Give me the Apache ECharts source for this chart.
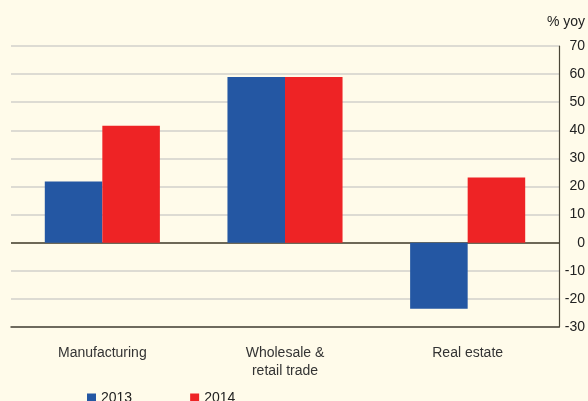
<!DOCTYPE html>
<html>
<head>
<meta charset="utf-8">
<script src="https://cdn.jsdelivr.net/npm/echarts@6/dist/echarts.min.js"></script>
<style>
  html, body { margin: 0; padding: 0; background: #fffbea; }
  #chart { width: 588px; height: 401px; }
</style>
</head>
<body>
<div id="chart"></div>
<script>
// data
const categories = ['Manufacturing', 'Wholesale &\nretail trade', 'Real estate'];
const years = ['2013', '2014'];
const values2013 = [21.8, 59, -23.5];
const values2014 = [41.6, 59, 23.2];
const yTicks = [-30, -20, -10, 0, 10, 20, 30, 40, 50, 60, 70];

const font = 'Liberation Sans, Arial, Helvetica, sans-serif';
// split line colours, dark one at zero
const gridColors = yTicks.map((t) => (t === 0 ? '#6d6857' : '#dddbd3'));

const myChart = echarts.init(document.getElementById('chart'));
const options = {
  backgroundColor: '#fffbea',
  animation: false,
  textStyle: { fontFamily: font },
  grid: {
    left: 11,
    right: 26,
    top: 46,
    bottom: 74,
  },
  legend: {
    data: years,
    left: 87,
    top: 391,
    padding: 0,
    itemWidth: 9,
    itemHeight: 9,
    itemGap: 58,
    icon: 'rect',
    textStyle: { fontSize: 14, color: '#222', fontFamily: font },
  },
  xAxis: {
    type: 'category',
    data: categories,
    axisLine: { onZero: false, lineStyle: { color: '#4a4638', width: 1.5 } },
    axisTick: { show: false },
    axisLabel: {
      color: '#333',
      fontSize: 14,
      margin: 17,
      lineHeight: 18,
      fontFamily: font,
    },
  },
  yAxis: {
    type: 'value',
    position: 'right',
    min: -30,
    max: 70,
    interval: 10,
    name: '% yoy',
    nameLocation: 'end',
    nameGap: 17,
    nameTextStyle: { color: '#222', fontSize: 14, align: 'right', padding: [0, -26, 0, 0], fontFamily: font },
    axisLine: { show: true, lineStyle: { color: '#4a4638', width: 1.2 } },
    axisTick: { show: false },
    axisLabel: {
      color: '#222',
      fontSize: 14,
      align: 'right',
      margin: 26,
      fontFamily: font,
    },
    splitLine: {
      show: true,
      lineStyle: { color: gridColors, width: 2 },
    },
  },
  series: [
    {
      name: years[0],
      type: 'bar',
      data: values2013,
      barGap: '0%',
      barCategoryGap: '37%',
      itemStyle: { color: '#2457a3' },
    },
    {
      name: years[1],
      type: 'bar',
      data: values2014,
      itemStyle: { color: '#ee2325' },
    },
  ],
};
myChart.setOption(options);
</script>
</body>
</html>
